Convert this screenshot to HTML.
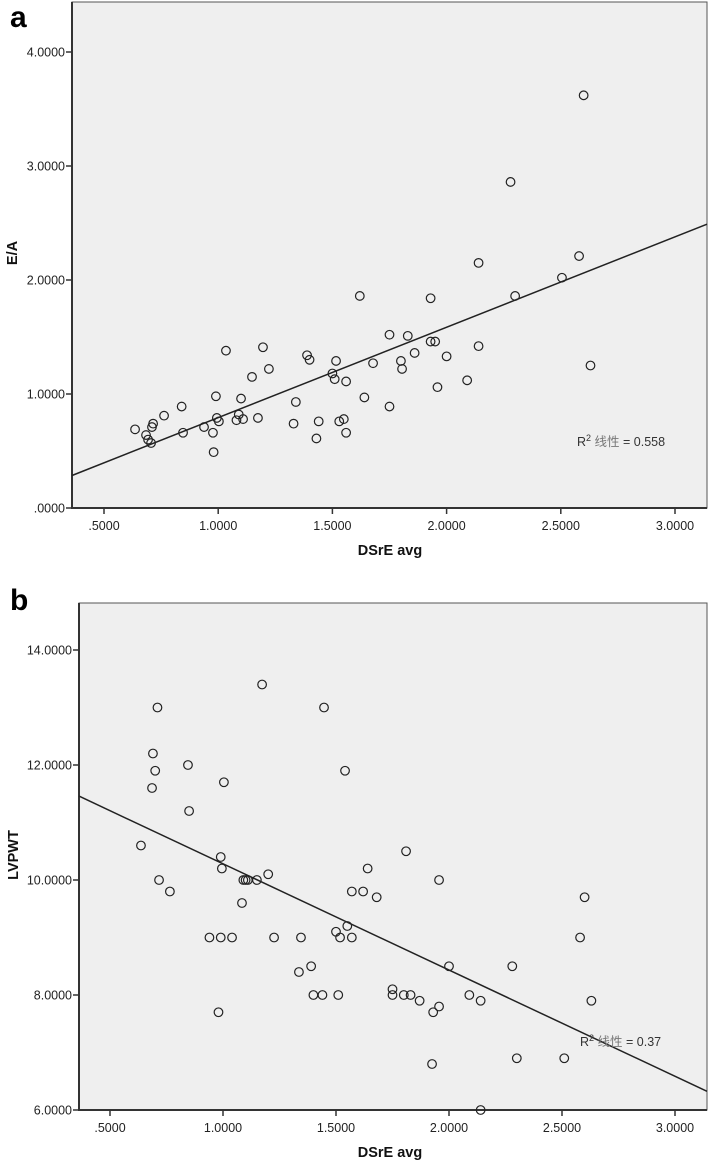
<!DOCTYPE html>
<html><head><meta charset="utf-8"><style>
html,body{margin:0;padding:0;background:#fff;}
svg{display:block;font-family:"Liberation Sans","Noto Sans CJK SC",sans-serif;}
</style></head><body>
<svg id="s" width="709" height="1167" viewBox="0 0 709 1167"></svg>
<script>
const xTicks=[0.5,1.0,1.5,2.0,2.5,3.0];
const xTickLabels=[".5000","1.0000","1.5000","2.0000","2.5000","3.0000"];
const aYTicks=[0,1,2,3,4];
const aYTickLabels=[".0000","1.0000","2.0000","3.0000","4.0000"];
const bYTicks=[6,8,10,12,14];
const bYTickLabels=["6.0000","8.0000","10.0000","12.0000","14.0000"];
const aX=[0.636,0.684,0.693,0.706,0.71,0.715,0.763,0.84,0.846,0.938,0.977,0.98,0.99,0.994,1.003,1.034,1.08,1.09,1.10,1.109,1.148,1.174,1.196,1.222,1.33,1.34,1.389,1.40,1.43,1.44,1.50,1.51,1.516,1.53,1.55,1.56,1.56,1.62,1.64,1.678,1.75,1.75,1.80,1.805,1.83,1.86,2.60,2.28,2.14,2.58,2.505,2.30,1.93,1.93,1.95,2.14,2.00,2.63,2.09,1.96];
const aY=[0.69,0.64,0.60,0.57,0.71,0.74,0.81,0.89,0.66,0.71,0.66,0.49,0.98,0.79,0.76,1.38,0.77,0.82,0.96,0.78,1.15,0.79,1.41,1.22,0.74,0.93,1.34,1.30,0.61,0.76,1.18,1.13,1.29,0.76,0.78,1.11,0.66,1.86,0.97,1.27,1.52,0.89,1.29,1.22,1.51,1.36,3.62,2.86,2.15,2.21,2.02,1.86,1.84,1.46,1.46,1.42,1.33,1.25,1.12,1.06];
const bX=[1.173,0.71,1.447,0.69,0.70,0.845,1.54,0.686,1.004,0.85,0.637,0.99,0.995,1.64,1.20,0.717,1.09,1.10,1.11,1.15,0.765,1.57,1.62,1.68,1.084,1.55,1.50,0.94,0.99,1.04,1.226,1.345,1.518,1.57,1.39,1.336,1.40,1.44,1.51,0.98,1.81,1.956,2.60,2.58,2.0,2.28,1.75,1.75,1.80,1.83,1.87,2.09,2.14,2.63,1.956,1.93,1.925,2.30,2.51,2.14];
const bY=[13.4,13.0,13.0,12.2,11.9,12.0,11.9,11.6,11.7,11.2,10.6,10.4,10.2,10.2,10.1,10.0,10.0,10.0,10.0,10.0,9.8,9.8,9.8,9.7,9.6,9.2,9.1,9.0,9.0,9.0,9.0,9.0,9.0,9.0,8.5,8.4,8.0,8.0,8.0,7.7,10.5,10.0,9.7,9.0,8.5,8.5,8.1,8.0,8.0,8.0,7.9,8.0,7.9,7.9,7.8,7.7,6.8,6.9,6.9,6.0];
const NS="http://www.w3.org/2000/svg";
const svg=document.getElementById('s');
function mk(t,a,p){const e=document.createElementNS(NS,t);for(const k in a)e.setAttribute(k,a[k]);(p||svg).appendChild(e);return e;}
function fit(xs,ys){const n=xs.length;let mx=0,my=0;for(let i=0;i<n;i++){mx+=xs[i];my+=ys[i];}mx/=n;my/=n;let sxy=0,sxx=0;for(let i=0;i<n;i++){sxy+=(xs[i]-mx)*(ys[i]-my);sxx+=(xs[i]-mx)**2;}const b=sxy/sxx;return [my-b*mx,b];}
function panel(o){
  const g=mk('g',{});
  
  
  const sx=v=>o.x0+(v-0.5)*o.kx, sy=v=>o.yBase-(v-o.yMin)*o.ky;
  const bg=mk('rect',{x:o.L,y:o.T,width:o.R-o.L,height:o.B-o.T,fill:'#efefef',stroke:'#555','stroke-width':1},g);
  
  mk('line',{x1:o.L,y1:o.T,x2:o.L,y2:o.B+1,stroke:'#333','stroke-width':2},g);
  mk('line',{x1:o.L,y1:o.B,x2:o.R,y2:o.B,stroke:'#333','stroke-width':2},g);
  xTicks.forEach((v,i)=>{const x=sx(v);
    mk('line',{x1:x,y1:o.B,x2:x,y2:o.B+6,stroke:'#333','stroke-width':1.5},g);
    const t=mk('text',{x:x,y:o.B+22,'text-anchor':'middle','font-size':12.5,fill:'#222'},g);t.textContent=xTickLabels[i];
    });
  o.yt.forEach((v,i)=>{const y=sy(v);
    mk('line',{x1:o.L-6,y1:y,x2:o.L,y2:y,stroke:'#333','stroke-width':1.5},g);
    const t=mk('text',{x:o.L-7,y:y+4.5,'text-anchor':'end','font-size':12.5,fill:'#222'},g);t.textContent=o.ytl[i];
    });
  const c=fit(o.xs,o.ys);const xa=0.5+(o.L-o.x0)/o.kx, xb=0.5+(o.R-o.x0)/o.kx;
  const ln=mk('line',{x1:o.L,y1:sy(c[0]+c[1]*xa),x2:o.R,y2:sy(c[0]+c[1]*xb),stroke:'#222','stroke-width':1.5},g);
  
  o.xs.forEach((v,i)=>{const p=mk('circle',{cx:sx(v),cy:sy(o.ys[i]),r:4.3,fill:'none',stroke:'#222','stroke-width':1.2},g);
    });
  const r=mk('text',{x:o.rx,y:o.ry,'font-size':12.5,fill:'#333'},g);
  r.innerHTML='R<tspan dy="-5" font-size="9">2</tspan><tspan dy="5" fill="#777"> 线性</tspan> = '+o.r2;
  
  const xt=mk('text',{x:390,y:o.B+47,'text-anchor':'middle','font-size':14.5,'font-weight':'bold',fill:'#111'},g);xt.textContent='DSrE  avg';
  
  const yt=mk('text',{x:0,y:0,transform:`translate(${o.ytx},${o.yty}) rotate(-90)`,'text-anchor':'middle','font-size':14.5,'font-weight':'bold',fill:'#111'},g);yt.textContent=o.ytitle;
  
  const pl=mk('text',{x:10,y:o.ly,'font-size':30,'font-weight':'bold',fill:'#000'},g);pl.textContent=o.letter;
  
}
panel({name:'panel-a-chart',L:72,R:707,T:2,B:508,x0:104,kx:228.4,yBase:508,yMin:0,ky:114,yt:aYTicks,ytl:aYTickLabels,xs:aX,ys:aY,r2:'0.558',rx:577,ry:446,ytitle:'E/A',ytx:17,yty:253,letter:'a',ly:27});
panel({name:'panel-b-chart',L:79,R:707,T:603,B:1110,x0:110,kx:226,yBase:1110,yMin:6,ky:57.5,yt:bYTicks,ytl:bYTickLabels,xs:bX,ys:bY,r2:'0.37',rx:580,ry:1046,ytitle:'LVPWT',ytx:18,yty:855,letter:'b',ly:610});
</script>
</body></html>
